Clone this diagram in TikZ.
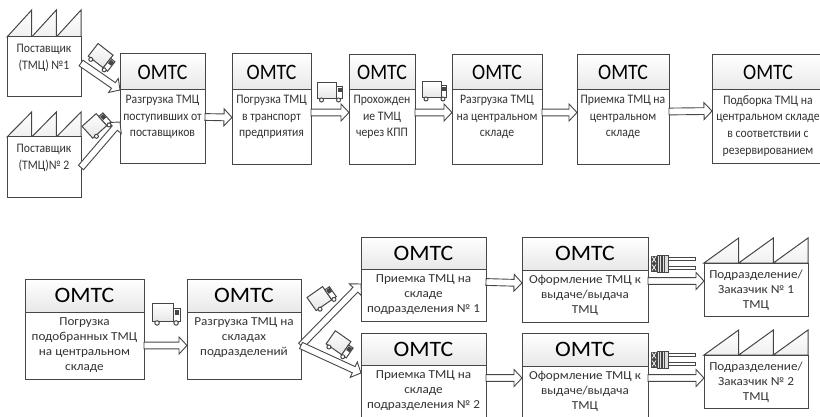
\documentclass[tikz,border=0pt]{standalone}
\usepackage{fontspec}
\setmainfont{Carlito}
\newfontfamily\topfont[FakeStretch=0.9]{Carlito}
\newfontfamily\botfont[FakeStretch=1.08]{Carlito}
\usetikzlibrary{calc}
\tikzset{
    headtop/.style={font=\topfont\fontsize{22}{22}\selectfont},
    headbot/.style={font=\botfont\fontsize{22}{22}\selectfont},
    texttop/.style={font=\topfont\fontsize{13}{16.7}\selectfont},
    textbot/.style={font=\botfont\fontsize{12.2}{15}\selectfont},
    outline/.style={draw=linegray,line width=1pt,inner sep=0pt,outer sep=0pt},
    headbox/.style={outline,top color=white,bottom color=gray!18,text=black},
    bodybox/.style={outline,fill=white},
    boxtext/.style={align=center,text=black!80,inner xsep=0pt,inner ysep=5pt,anchor=north,
        execute at begin node=\strut},
    blockarrow/.style={draw=linegray,line width=0.9pt,fill=white,
        to path={
            ($(\tikztostart)!3.4pt!90:(\tikztotarget)$)
            -- ($(\tikztotarget)!8pt!(\tikztostart)!3.4pt!90:(\tikztotarget)$)
            -- ($(\tikztotarget)!8pt!(\tikztostart)!8.5pt!90:(\tikztotarget)$)
            -- (\tikztotarget)
            -- ($(\tikztotarget)!8pt!(\tikztostart)!8.5pt!-90:(\tikztotarget)$)
            -- ($(\tikztotarget)!8pt!(\tikztostart)!3.4pt!-90:(\tikztotarget)$)
            -- ($(\tikztostart)!3.4pt!-90:(\tikztotarget)$) -- cycle
        }},
    pics/truck/.style={code={
        \draw[outline,top color=white,bottom color=gray!20] (-12,-9) rectangle (7,7);
        \draw[outline,fill=white] (7,-5) -- (12.5,-5) -- (12.5,7) -- (7,7) -- cycle;
        \draw[outline,fill=linegray] (8.5,-3.5) rectangle (11.5,0);
        \draw[outline,fill=white] (-8,8) circle (2);
        \draw[outline,fill=white] (9,8) circle (2);
    }},
    pics/forklift/.style={code={
        \draw[outline,fill=white] (17,-6) rectangle (44,-3);
        \draw[outline,fill=white] (17,3) rectangle (44,6);
        \fill[linegray] (0,-8) rectangle (6,8);
        \draw[white,line width=0.7pt] (1,-7) -- (5,-1) (5,-7) -- (1,-1) (1,1) -- (5,7) (5,1) -- (1,7);
        \draw[outline,fill=gray!25] (6,-8.5) rectangle (17,8.5);
        \foreach \s in {8.5,11,13.5} {
                \draw[linegray,line width=1.2pt] (\s,-8.5) -- (\s,8.5);
            }
    }}
}

\begin{document}
\begin{tikzpicture}[x=1pt,y=-1pt]
    % Define colors
    \definecolor{linegray}{RGB}{70,70,70}

    \useasboundingbox (0,0) rectangle (820,417);

    % Draw OMTS boxes
    \foreach \n/\xa/\xb/\ya/\ym/\yb/\f/\txt in {
            b1/120/205/54/90/164/top/{Разгрузка ТМЦ\\поступивших от\\поставщиков},
            b2/232/311/54/90/165/top/{Погрузка ТМЦ\\в транспорт\\предприятия},
            b3/349/415/55/90/165/top/{Прохожден\\ие ТМЦ\\через КПП},
            b4/452/542/55/90/165/top/{Разгрузка ТМЦ\\на центральном\\складе},
            b5/577/669/55/90/165/top/{Приемка ТМЦ на\\центральном\\складе},
            b6/712/824/55/90/164/top/{Подборка ТМЦ на\\центральном складе\\в соответствии с\\резервированием},
            b7/25/144/279/312/379/bot/{Погрузка\\подобранных ТМЦ\\на центральном\\складе},
            b8/187/301/279/312/379/bot/{Разгрузка ТМЦ на\\складах\\подразделений},
            b9/361/486/237/269/321/bot/{Приемка ТМЦ на\\складе\\подразделения № 1},
            b10/361/486/333/365/417/bot/{Приемка ТМЦ на\\складе\\подразделения № 2},
            b11/522/648/237/270/322/bot/{Оформление ТМЦ к\\выдаче/выдача\\ТМЦ},
            b12/522/648/333/366/420/bot/{Оформление ТМЦ к\\выдаче/выдача\\ТМЦ}} {
            \node[headbox,head\f,minimum width=\xb pt-\xa pt,minimum height=\ym pt-\ya pt]
                (\n h) at ({(\xa+\xb)/2},{(\ya+\ym)/2}) {ОМТС};
            \node[bodybox,minimum width=\xb pt-\xa pt,minimum height=\yb pt-\ym pt]
                (\n) at ({(\xa+\xb)/2},{(\ym+\yb)/2}) {};
            \node[boxtext,text\f] (\n t) at (\n.north) {\txt};
        }

    % Draw factories
    \foreach \n/\xa/\xb/\ya/\yb/\yt/\f/\txt in {
            s1/7/81/37/97/10/top/{Поставщик\\(ТМЦ) №1},
            s2/7/81/137/198/112/top/{Поставщик\\(ТМЦ)№ 2},
            d1/704/808/263/316/238/bot/{Подразделение/\\Заказчик № 1\\ТМЦ},
            d2/704/808/355/408/330/bot/{Подразделение/\\Заказчик № 2\\ТМЦ}} {
            \foreach \k in {0,1,2} {
                    \pgfmathsetmacro{\xl}{\xa+\k*(\xb-\xa)/3}
                    \pgfmathsetmacro{\xr}{\xa+(\k+1)*(\xb-\xa)/3}
                    \draw[outline,top color=white,bottom color=gray!12]
                        (\xl,\ya) -- (\xr,\yt) -- (\xr,\ya) -- cycle;
                }
            \node[bodybox,minimum width=\xb pt-\xa pt,minimum height=\yb pt-\ya pt]
                (\n) at ({(\xa+\xb)/2},{(\ya+\yb)/2}) {};
            \node[boxtext,text\f,yshift=-2pt] (\n t) at (\n.north) {\txt};
        }

    % Add arrows
    \draw[blockarrow] ([yshift=4pt]s1.east) to (b1.north west);
    \draw[blockarrow] (s2.east) to ([yshift=5pt]b1.west);
    \draw[blockarrow] ([yshift=10pt]b1.east) to ([yshift=10pt]b2.west);
    \draw[blockarrow] ([yshift=15pt]b2.east) to ([yshift=15pt]b3.west);
    \draw[blockarrow] ([yshift=15pt]b3.east) to ([yshift=15pt]b4.west);
    \draw[blockarrow] ([yshift=15pt]b4.east) to ([yshift=15pt]b5.west);
    \draw[blockarrow] ([yshift=16pt]b5.east) to ([yshift=16pt]b6.west);
    \draw[blockarrow] (b7.east) to (b8.west);
    \draw[blockarrow] (b8.east) to ([yshift=11pt]b9.west);
    \draw[blockarrow] (b8.east) to ([yshift=18pt]b10.west);
    \draw[blockarrow] ([yshift=13pt]b9.east) to ([yshift=13pt]b11.west);
    \draw[blockarrow] ([yshift=13pt]b10.east) to ([yshift=15pt]b12.west);
    \draw[blockarrow] ([yshift=15pt]b11.east) to ([yshift=8.5pt]d1.west);
    \draw[blockarrow] ([yshift=15pt]b12.east) to ([yshift=3.5pt]d2.west);

    % Add trucks
    \pic at (329.5,92) {truck};
    \pic at (434,91) {truck};
    \pic[rotate=-38] at (102,58) {truck};
    \pic[rotate=42] at (97,125) {truck};
    \pic[scale=1.12] at (166,314) {truck};
    \pic[rotate=35] at (322,298) {truck};
    \pic[rotate=-35] at (340,345) {truck};

    % Add forklifts
    \pic at (651,263.5) {forklift};
    \pic at (651,359.5) {forklift};

\end{tikzpicture}
\end{document}
